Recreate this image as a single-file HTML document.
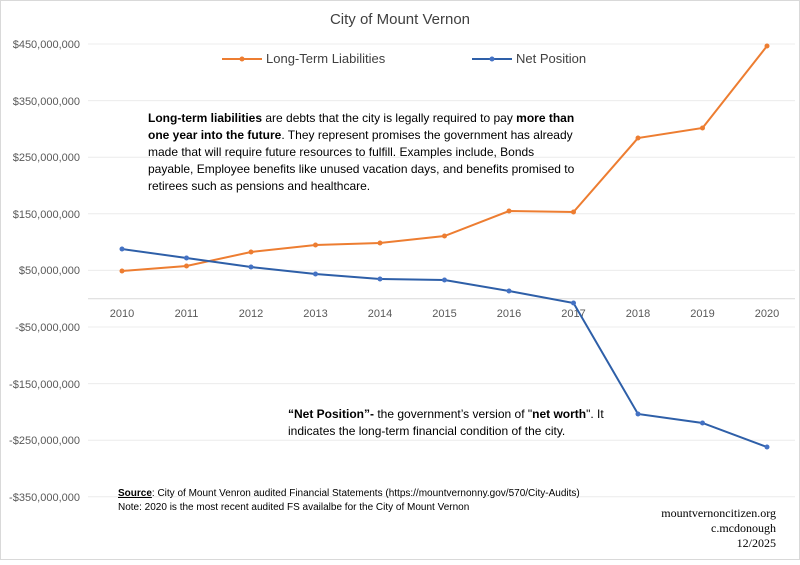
<!DOCTYPE html>
<html><head><style>
body{margin:0;background:#fff;}
svg text{font-family:"Liberation Sans",sans-serif;}
</style></head><body>
<svg width="800" height="560" xmlns="http://www.w3.org/2000/svg">
<rect width="800" height="560" fill="#fff"/>
<rect x="0.5" y="0.5" width="799" height="559" fill="none" stroke="#d9d9d9"/>
<text x="400" y="24" text-anchor="middle" font-size="15" fill="#404040">City of Mount Vernon</text>
<g stroke="#ececec" stroke-width="1">
<line x1="88" x2="795" y1="44" y2="44"/><line x1="88" x2="795" y1="100.6" y2="100.6"/>
<line x1="88" x2="795" y1="157.2" y2="157.2"/><line x1="88" x2="795" y1="213.8" y2="213.8"/>
<line x1="88" x2="795" y1="270.4" y2="270.4"/><line x1="88" x2="795" y1="327" y2="327"/>
<line x1="88" x2="795" y1="383.6" y2="383.6"/><line x1="88" x2="795" y1="440.2" y2="440.2"/>
<line x1="88" x2="795" y1="496.8" y2="496.8"/>
</g>
<line x1="88" x2="795" y1="298.7" y2="298.7" stroke="#d9d9d9"/>
<g font-size="11" fill="#595959" text-anchor="end">
<text x="80" y="48">$450,000,000</text><text x="80" y="105">$350,000,000</text>
<text x="80" y="161">$250,000,000</text><text x="80" y="218">$150,000,000</text>
<text x="80" y="274">$50,000,000</text><text x="80" y="331">-$50,000,000</text>
<text x="80" y="388">-$150,000,000</text><text x="80" y="444">-$250,000,000</text>
<text x="80" y="501">-$350,000,000</text>
</g>
<g font-size="11" fill="#595959" text-anchor="middle">
<text x="122" y="317">2010</text><text x="186.5" y="317">2011</text><text x="251" y="317">2012</text>
<text x="315.5" y="317">2013</text><text x="380" y="317">2014</text><text x="444.5" y="317">2015</text>
<text x="509" y="317">2016</text><text x="573.5" y="317">2017</text><text x="638" y="317">2018</text>
<text x="702.5" y="317">2019</text><text x="767" y="317">2020</text>
</g>
<polyline fill="none" stroke="#ED7D31" stroke-width="2" points="122,271 186.5,266 251,252 315.5,245 380,243 444.5,236 509,211 573.5,212 638,138 702.5,128 767,46"/>
<g fill="#ED7D31">
<circle cx="122" cy="271" r="2.5"/><circle cx="186.5" cy="266" r="2.5"/><circle cx="251" cy="252" r="2.5"/><circle cx="315.5" cy="245" r="2.5"/><circle cx="380" cy="243" r="2.5"/><circle cx="444.5" cy="236" r="2.5"/><circle cx="509" cy="211" r="2.5"/><circle cx="573.5" cy="212" r="2.5"/><circle cx="638" cy="138" r="2.5"/><circle cx="702.5" cy="128" r="2.5"/><circle cx="767" cy="46" r="2.5"/>
</g>
<polyline fill="none" stroke="#2E5FA8" stroke-width="2" points="122,249 186.5,258 251,267 315.5,274 380,279 444.5,280 509,291 573.5,303 638,414 702.5,423 767,447"/>
<g fill="#4472C4">
<circle cx="122" cy="249" r="2.5"/><circle cx="186.5" cy="258" r="2.5"/><circle cx="251" cy="267" r="2.5"/><circle cx="315.5" cy="274" r="2.5"/><circle cx="380" cy="279" r="2.5"/><circle cx="444.5" cy="280" r="2.5"/><circle cx="509" cy="291" r="2.5"/><circle cx="573.5" cy="303" r="2.5"/><circle cx="638" cy="414" r="2.5"/><circle cx="702.5" cy="423" r="2.5"/><circle cx="767" cy="447" r="2.5"/>
</g>
<line x1="222" x2="262" y1="59" y2="59" stroke="#ED7D31" stroke-width="2"/><circle cx="242" cy="59" r="2.5" fill="#ED7D31"/>
<text x="266" y="63" font-size="13" fill="#404040">Long-Term Liabilities</text>
<line x1="472" x2="512" y1="59" y2="59" stroke="#2E5FA8" stroke-width="2"/><circle cx="492" cy="59" r="2.5" fill="#4472C4"/>
<text x="516" y="63" font-size="13" fill="#404040">Net Position</text>
<g font-size="12" fill="#000">
<text x="148" y="122"><tspan font-weight="bold">Long-term liabilities</tspan> are debts that the city is legally required to pay <tspan font-weight="bold">more than</tspan></text>
<text x="148" y="139"><tspan font-weight="bold">one year into the future</tspan>. They represent promises the government has already</text>
<text x="148" y="156">made that will require future resources to fulfill. Examples include, Bonds</text>
<text x="148" y="173">payable, Employee benefits like unused vacation days, and benefits promised to</text>
<text x="148" y="190">retirees such as pensions and healthcare.</text>
<text x="288" y="418"><tspan font-weight="bold">“Net Position”-</tspan> the government’s version of "<tspan font-weight="bold">net worth</tspan>". It</text>
<text x="288" y="435">indicates the long-term financial condition of the city.</text>
</g>
<g font-size="10" fill="#000">
<text x="118" y="496"><tspan font-weight="bold" text-decoration="underline">Source</tspan>: City of Mount Venron audited Financial Statements (https://mountvernonny.gov/570/City-Audits)</text>
<text x="118" y="510">Note: 2020 is the most recent audited FS availalbe for the City of Mount Vernon</text>
</g>
<g font-family="Liberation Serif" font-size="12" fill="#000" text-anchor="end">
<text x="776" y="517" style="font-family:'Liberation Serif',serif">mountvernoncitizen.org</text>
<text x="776" y="532" style="font-family:'Liberation Serif',serif">c.mcdonough</text>
<text x="776" y="547" style="font-family:'Liberation Serif',serif">12/2025</text>
</g>
</svg>
</body></html>
